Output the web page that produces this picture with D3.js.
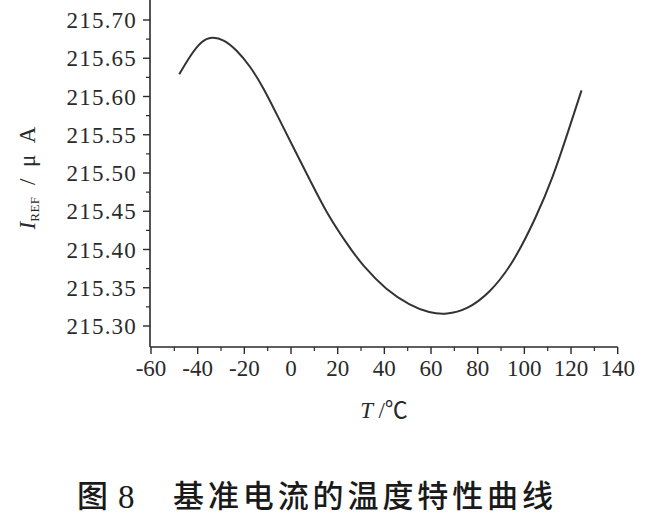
<!DOCTYPE html>
<html><head><meta charset="utf-8">
<script src="https://cdn.jsdelivr.net/npm/d3@7/dist/d3.min.js"></script>
<style>
body{margin:0;background:#fff;}
svg{display:block;}
</style></head>
<body>
<script>
// Data
const temps = [-47.9,-43.3,-38.3,-34.0,-29.0,-23.3,-17.6,-11.9,-5.5,0.9,8.1,15.2,23.8,30.9,40.9,50.9,59.4,66.6,75.2,85.2,95.2,105.2,112.3,118.0,124.5];
const iref  = [215.629,215.653,215.673,215.678,215.675,215.661,215.640,215.612,215.573,215.534,215.491,215.448,215.408,215.378,215.347,215.327,215.317,215.315,215.321,215.343,215.382,215.443,215.495,215.547,215.608];
const xTicks = [-60,-40,-20,0,20,40,60,80,100,120,140];
const yTicks = [215.30,215.35,215.40,215.45,215.50,215.55,215.60,215.65,215.70];
const caption = "基准电流的温度特性曲线";

const W=656,H=526;
const svg=d3.select("body").append("svg").attr("width",W).attr("height",H);
const ink="#2a2a2a";
const x=d3.scaleLinear().domain([-60,140]).range([151,617.7]);
const y=d3.scaleLinear().domain([215.30,215.70]).range([326,20]);
const yBottom=347, yTop=0;

// axis lines
svg.append("line").attr("x1",x(-60)-1).attr("x2",x(-60)-1).attr("y1",yTop).attr("y2",yBottom)
  .attr("stroke",ink).attr("stroke-width",1.6);
svg.append("line").attr("x1",x(-60)-1).attr("x2",x(140)).attr("y1",yBottom).attr("y2",yBottom)
  .attr("stroke",ink).attr("stroke-width",1.6);

// y ticks (major + minor)
const yMinor=d3.range(0,17).map(i=>215.275+i*0.025).filter(v=>!yTicks.some(t=>Math.abs(t-v)<1e-6) && y(v)>yTop+2 && y(v)<yBottom-2);
const ax=x(-60)-1;
svg.selectAll(".ymaj").data(yTicks).join("line")
  .attr("x1",ax-7).attr("x2",ax).attr("y1",d=>y(d)).attr("y2",d=>y(d))
  .attr("stroke",ink).attr("stroke-width",1.4);
svg.selectAll(".ymin").data(yMinor).join("line")
  .attr("x1",ax-4).attr("x2",ax).attr("y1",d=>y(d)).attr("y2",d=>y(d))
  .attr("stroke",ink).attr("stroke-width",1.2);
svg.selectAll(".ylab").data(yTicks).join("text")
  .attr("x",137).attr("y",d=>y(d)).attr("dy","0.35em")
  .attr("text-anchor","end")
  .attr("font-family","Liberation Serif, serif").attr("font-size",23)
  .attr("letter-spacing",1.2)
  .attr("fill",ink).text(d=>d.toFixed(2));

// x ticks
const xMinor=d3.range(-50,140,20);
svg.selectAll(".xmaj").data(xTicks).join("line")
  .attr("x1",d=>x(d)).attr("x2",d=>x(d)).attr("y1",yBottom).attr("y2",yBottom+7)
  .attr("stroke",ink).attr("stroke-width",1.4);
svg.selectAll(".xmin").data(xMinor).join("line")
  .attr("x1",d=>x(d)).attr("x2",d=>x(d)).attr("y1",yBottom).attr("y2",yBottom+4)
  .attr("stroke",ink).attr("stroke-width",1.2);
svg.selectAll(".xlab").data(xTicks).join("text")
  .attr("x",d=>x(d)).attr("y",376)
  .attr("text-anchor","middle")
  .attr("font-family","Liberation Serif, serif").attr("font-size",23)
  .attr("fill",ink).text(d=>d);

// curve
const pts=temps.map((t,i)=>[t,iref[i]]);
svg.append("path").datum(pts)
  .attr("d",d3.line().x(d=>x(d[0])).y(d=>y(d[1])).curve(d3.curveBasis))
  .attr("fill","none").attr("stroke","#333").attr("stroke-width",2);

// x axis title
const xt=svg.append("text").attr("x",384).attr("y",418).attr("text-anchor","middle")
  .attr("font-family","Liberation Serif, serif").attr("font-size",23).attr("fill",ink)
  .attr("xml:space","preserve");
xt.append("tspan").attr("font-style","italic").text("T ");
xt.append("tspan").text("/");
xt.append("tspan").attr("font-family","Noto Sans CJK SC, DejaVu Sans").attr("font-size",23).text("℃");

// y axis title
const yt=svg.append("text").attr("transform","translate(35,178) rotate(-90)").attr("text-anchor","middle")
  .attr("font-family","Liberation Serif, serif").attr("font-size",23).attr("fill",ink);
yt.append("tspan").attr("font-style","italic").text("I");
yt.append("tspan").attr("font-size",13).attr("dy",4).attr("letter-spacing",0.5).text("REF");
yt.append("tspan").attr("dy",-4).attr("xml:space","preserve").text("  /  μ  A");

// caption
const cf="Noto Sans CJK SC, sans-serif";
svg.append("text").attr("x",77).attr("y",496).attr("dy","0.36em")
  .attr("font-family",cf).attr("font-size",31).attr("font-weight",500).attr("fill","#1a1a1a").text("图");
svg.append("text").attr("x",118).attr("y",496).attr("dy","0.36em")
  .attr("font-family","Liberation Serif, serif").attr("font-size",33).attr("fill","#1a1a1a").text("8");
svg.append("text").attr("x",173).attr("y",496).attr("dy","0.36em")
  .attr("font-family",cf).attr("font-size",31).attr("font-weight",500).attr("letter-spacing",3.9)
  .attr("fill","#1a1a1a").text(caption);
</script>
</body></html>
